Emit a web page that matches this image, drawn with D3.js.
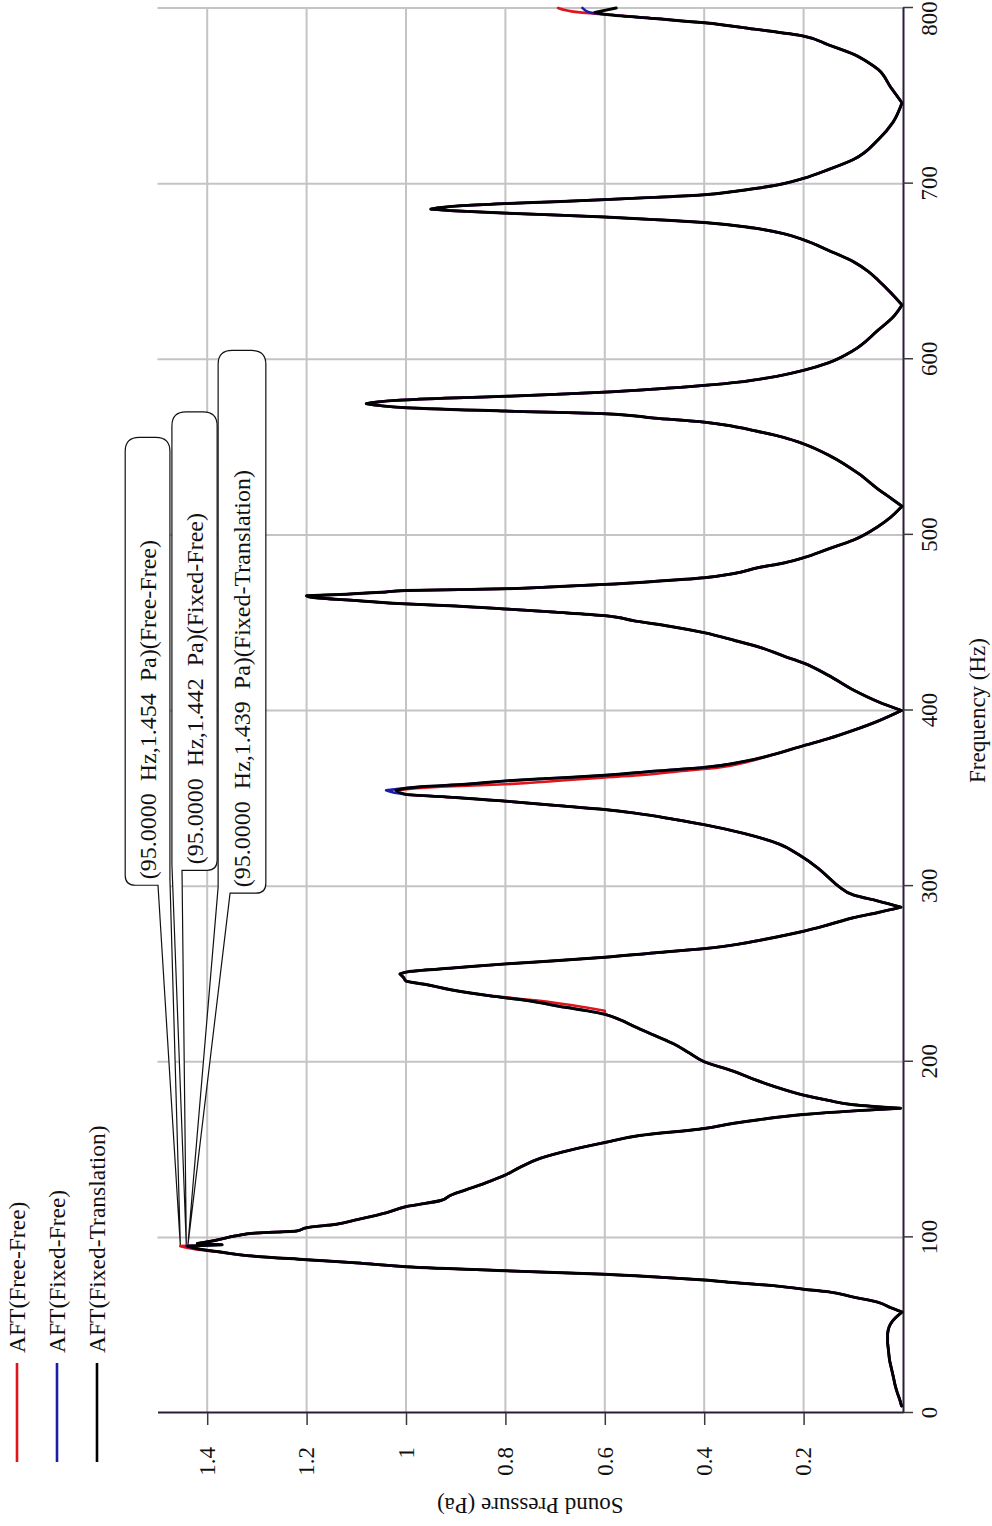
<!DOCTYPE html>
<html><head><meta charset="utf-8">
<script src="https://cdn.jsdelivr.net/npm/d3@7"></script>
<style>
html,body{margin:0;padding:0;background:#fff;}
svg{display:block;}
text{font-family:"Liberation Serif","Times New Roman",serif;}
</style></head><body>
<svg id="chart" width="992" height="1526"></svg>
<script>
// ---------------- DATA ----------------
const freqHz = [
  4, 8, 12, 16, 20, 25, 30, 35, 40, 45,
  49, 52, 54.5, 57.5, 60, 63, 66, 69, 70.5, 72.5,
  74, 75.7, 77.5, 79, 81, 83.3, 85.5, 87.3, 89.6, 91.5,
  93.5, 95, 95.8, 96.5, 98.5, 101, 102.5, 103.6, 105.5, 107.5,
  110, 114, 117.5, 121, 124, 127, 131, 135.5, 140, 145,
  150, 154, 158, 162, 165, 167, 170, 172, 173.5, 175.5,
  178, 181, 186, 190, 194.5, 200, 205, 210, 215, 220,
  224, 227, 229, 231, 235, 237.5, 241, 244, 246, 248,
  250, 251.5, 253.5, 255.7, 257.5, 259.5, 262, 264.4, 267, 269.6,
  274.3, 278, 282, 285, 288, 291.5, 295, 300, 305, 310,
  318, 324, 330, 335, 338, 341.6, 343.6, 346, 348.4, 350.5,
  352.2, 354.5, 356.6, 358, 359.9, 361.5, 363.1, 365.5, 367.6, 371,
  375, 380, 384, 388.7, 394, 400, 405, 411.7, 420, 427,
  431, 435.7, 440, 444.3, 448, 451, 454, 456, 457.8, 459.5,
  460.7, 462.6, 464.5, 465.3, 466.2, 467.3, 468.3, 469.3, 470.5, 471.8,
  473.5, 475.6, 478, 481.4, 484, 487, 492, 497, 504.8, 510,
  516.3, 521, 526, 535, 545, 551.8, 555.5, 559.4, 562, 564.2,
  566.5, 569, 570.5, 572.4, 574.7, 576.6, 578, 578.9, 580, 581.3,
  583, 585.1, 587, 589.5, 593.7, 598, 605, 616.6, 624, 630.9,
  638, 645, 650, 655.6, 662, 668, 671.5, 674.7, 677.9, 679.5,
  681, 683.2, 684.5, 685.5, 687.4, 688.6, 689.7, 690.9, 692.2, 693.7,
  695.5, 697.5, 700, 703, 708, 713.7, 725, 735, 746, 755,
  765, 769, 773.7, 779, 784, 788, 791.6, 794, 796.4, 797.5, 800
];
const fixedTranslation = [
  0.003, 0.007, 0.012, 0.016, 0.019, 0.023, 0.027, 0.029, 0.031, 0.031,
  0.028, 0.022, 0.014, 0.002, 0.025, 0.05, 0.10, 0.15, 0.20, 0.26,
  0.33, 0.40, 0.50, 0.60, 0.80, 1.00, 1.10, 1.20, 1.32, 1.37,
  1.42, 1.439, 1.37, 1.42, 1.38, 1.34, 1.30, 1.22, 1.20, 1.14,
  1.10, 1.04, 1.00, 0.93, 0.91, 0.88, 0.84, 0.80, 0.77, 0.73,
  0.665, 0.60, 0.53, 0.40, 0.34, 0.29, 0.20, 0.10, 0.005, 0.10,
  0.15, 0.20, 0.26, 0.30, 0.34, 0.40, 0.43, 0.46, 0.50, 0.54,
  0.57, 0.60, 0.635, 0.68, 0.76, 0.83, 0.91, 0.96, 1.00, 1.005,
  1.012, 0.99, 0.90, 0.80, 0.70, 0.60, 0.50, 0.40, 0.33, 0.28,
  0.20, 0.15, 0.10, 0.05, 0.004, 0.05, 0.10, 0.13, 0.15, 0.17,
  0.21, 0.25, 0.32, 0.40, 0.46, 0.54, 0.60, 0.70, 0.80, 0.90,
  1.00, 1.02, 0.97, 0.88, 0.80, 0.70, 0.60, 0.50, 0.40, 0.32,
  0.26, 0.20, 0.15, 0.10, 0.05, 0.003, 0.05, 0.10, 0.15, 0.20,
  0.24, 0.285, 0.34, 0.40, 0.47, 0.54, 0.60, 0.70, 0.80, 0.90,
  1.00, 1.10, 1.19, 1.20, 1.12, 1.05, 1.00, 0.80, 0.70, 0.60,
  0.50, 0.40, 0.34, 0.29, 0.24, 0.20, 0.15, 0.10, 0.05, 0.025,
  0.002, 0.025, 0.05, 0.09, 0.147, 0.20, 0.24, 0.30, 0.345, 0.40,
  0.50, 0.60, 0.80, 1.00, 1.08, 1.02, 0.90, 0.80, 0.70, 0.60,
  0.50, 0.40, 0.33, 0.27, 0.20, 0.15, 0.10, 0.05, 0.02, 0.002,
  0.025, 0.05, 0.07, 0.10, 0.15, 0.20, 0.24, 0.30, 0.40, 0.50,
  0.60, 0.80, 0.90, 0.95, 0.89, 0.80, 0.70, 0.60, 0.50, 0.40,
  0.34, 0.29, 0.24, 0.20, 0.15, 0.10, 0.05, 0.02, 0.002, 0.025,
  0.05, 0.07, 0.10, 0.15, 0.20, 0.30, 0.40, 0.50, 0.60, 0.62, 0.577
];
const freeFree = [
  0.003, 0.007, 0.012, 0.016, 0.019, 0.023, 0.027, 0.029, 0.031, 0.031,
  0.028, 0.022, 0.014, 0.002, 0.025, 0.05, 0.10, 0.15, 0.20, 0.26,
  0.33, 0.40, 0.50, 0.60, 0.80, 1.00, 1.10, 1.20, 1.32, 1.37,
  1.43, 1.454, 1.40, 1.42, 1.38, 1.34, 1.30, 1.22, 1.20, 1.14,
  1.10, 1.04, 1.00, 0.93, 0.91, 0.88, 0.84, 0.80, 0.77, 0.73,
  0.665, 0.60, 0.53, 0.40, 0.34, 0.29, 0.20, 0.10, 0.005, 0.10,
  0.15, 0.20, 0.26, 0.30, 0.34, 0.40, 0.43, 0.46, 0.50, 0.54,
  0.57, 0.60, 0.60, 0.64, 0.74, 0.83, 0.91, 0.96, 1.00, 1.005,
  1.012, 0.99, 0.90, 0.80, 0.70, 0.60, 0.50, 0.40, 0.33, 0.28,
  0.20, 0.15, 0.10, 0.05, 0.004, 0.05, 0.10, 0.13, 0.15, 0.17,
  0.21, 0.25, 0.32, 0.40, 0.46, 0.54, 0.60, 0.70, 0.80, 0.90,
  1.00, 1.02, 0.93, 0.80, 0.70, 0.62, 0.53, 0.45, 0.37, 0.31,
  0.26, 0.20, 0.15, 0.10, 0.05, 0.003, 0.05, 0.10, 0.15, 0.20,
  0.24, 0.285, 0.34, 0.40, 0.47, 0.54, 0.60, 0.70, 0.80, 0.90,
  1.00, 1.10, 1.19, 1.20, 1.12, 1.05, 1.00, 0.80, 0.70, 0.60,
  0.50, 0.40, 0.34, 0.29, 0.24, 0.20, 0.15, 0.10, 0.05, 0.025,
  0.002, 0.025, 0.05, 0.09, 0.147, 0.20, 0.24, 0.30, 0.345, 0.40,
  0.50, 0.60, 0.80, 1.00, 1.08, 1.02, 0.90, 0.80, 0.70, 0.60,
  0.50, 0.40, 0.33, 0.27, 0.20, 0.15, 0.10, 0.05, 0.02, 0.002,
  0.025, 0.05, 0.07, 0.10, 0.15, 0.20, 0.24, 0.30, 0.40, 0.50,
  0.60, 0.80, 0.90, 0.95, 0.89, 0.80, 0.70, 0.60, 0.50, 0.40,
  0.34, 0.29, 0.24, 0.20, 0.15, 0.10, 0.05, 0.02, 0.002, 0.025,
  0.05, 0.07, 0.10, 0.15, 0.20, 0.30, 0.40, 0.50, 0.60, 0.65, 0.694
];
const fixedFree = [
  0.003, 0.007, 0.012, 0.016, 0.019, 0.023, 0.027, 0.029, 0.031, 0.031,
  0.028, 0.022, 0.014, 0.002, 0.025, 0.05, 0.10, 0.15, 0.20, 0.26,
  0.33, 0.40, 0.50, 0.60, 0.80, 1.00, 1.10, 1.20, 1.32, 1.37,
  1.42, 1.442, 1.37, 1.42, 1.38, 1.34, 1.30, 1.22, 1.20, 1.14,
  1.10, 1.04, 1.00, 0.93, 0.91, 0.88, 0.84, 0.80, 0.77, 0.73,
  0.665, 0.60, 0.53, 0.40, 0.34, 0.29, 0.20, 0.10, 0.005, 0.10,
  0.15, 0.20, 0.26, 0.30, 0.34, 0.40, 0.43, 0.46, 0.50, 0.54,
  0.57, 0.60, 0.635, 0.68, 0.76, 0.83, 0.91, 0.96, 1.00, 1.005,
  1.012, 0.99, 0.90, 0.80, 0.70, 0.60, 0.50, 0.40, 0.33, 0.28,
  0.20, 0.15, 0.10, 0.05, 0.004, 0.05, 0.10, 0.13, 0.15, 0.17,
  0.21, 0.25, 0.32, 0.40, 0.46, 0.54, 0.60, 0.70, 0.80, 0.90,
  1.00, 1.04, 0.97, 0.88, 0.80, 0.70, 0.60, 0.50, 0.40, 0.32,
  0.26, 0.20, 0.15, 0.10, 0.05, 0.003, 0.05, 0.10, 0.15, 0.20,
  0.24, 0.285, 0.34, 0.40, 0.47, 0.54, 0.60, 0.70, 0.80, 0.90,
  1.00, 1.10, 1.19, 1.20, 1.12, 1.05, 1.00, 0.80, 0.70, 0.60,
  0.50, 0.40, 0.34, 0.29, 0.24, 0.20, 0.15, 0.10, 0.05, 0.025,
  0.002, 0.025, 0.05, 0.09, 0.147, 0.20, 0.24, 0.30, 0.345, 0.40,
  0.50, 0.60, 0.80, 1.00, 1.08, 1.02, 0.90, 0.80, 0.70, 0.60,
  0.50, 0.40, 0.33, 0.27, 0.20, 0.15, 0.10, 0.05, 0.02, 0.002,
  0.025, 0.05, 0.07, 0.10, 0.15, 0.20, 0.24, 0.30, 0.40, 0.50,
  0.60, 0.80, 0.90, 0.95, 0.89, 0.80, 0.70, 0.60, 0.50, 0.40,
  0.34, 0.29, 0.24, 0.20, 0.15, 0.10, 0.05, 0.02, 0.002, 0.025,
  0.05, 0.07, 0.10, 0.15, 0.20, 0.30, 0.40, 0.50, 0.60, 0.63, 0.645
];
const seriesNames = ["AFT(Free-Free)", "AFT(Fixed-Free)", "AFT(Fixed-Translation)"];
const freqTicks = [0, 100, 200, 300, 400, 500, 600, 700, 800];
const pressureTicks = [0.2, 0.4, 0.6, 0.8, 1, 1.2, 1.4];
const peakFreq = [95, 95, 95];
const peakPressure = [1.454, 1.442, 1.439];
const calloutLabels = [
  "(95.0000  Hz,1.454  Pa)(Free-Free)",
  "(95.0000  Hz,1.442  Pa)(Fixed-Free)",
  "(95.0000  Hz,1.439  Pa)(Fixed-Translation)"
];

// ---------------- STYLE / LAYOUT ----------------
const colors = ["#e3131c", "#1c1ca8", "#000000"];
const W = 1526, H = 992;               // unrotated drawing space
const margin = {left: 113, right: 8, top: 157.5, bottom: 89};
const FONT = '"Liberation Serif","Times New Roman",serif';

const svg = d3.select("#chart");
svg.append("rect").attr("width", 992).attr("height", 1526).attr("fill", "#fff");
const g = svg.append("g").attr("transform", `translate(0,${W}) rotate(-90)`);

const x = d3.scaleLinear().domain([0, 800]).range([margin.left, W - margin.right]);
const y = d3.scaleLinear().domain([0, 1.5]).range([H - margin.bottom, margin.top]);

// gridlines
g.append("g").selectAll("line").data(pressureTicks).join("line")
  .attr("x1", x(0)).attr("x2", x(800))
  .attr("y1", d => y(d)).attr("y2", d => y(d))
  .attr("stroke", "#c4c4c4").attr("stroke-width", 2);
g.append("g").selectAll("line").data(freqTicks.filter(d => d > 0)).join("line")
  .attr("x1", d => x(d)).attr("x2", d => x(d))
  .attr("y1", y(0)).attr("y2", y(1.5))
  .attr("stroke", "#c4c4c4").attr("stroke-width", 2);

// axes
const gx = g.append("g").attr("transform", `translate(0,${y(0)})`)
  .call(d3.axisBottom(x).tickValues(freqTicks).tickSize(10).tickSizeOuter(0).tickPadding(8).tickFormat(d => String(d)));
const gy = g.append("g").attr("transform", `translate(${x(0)},0)`)
  .call(d3.axisLeft(y).tickValues(pressureTicks).tickSize(12).tickSizeOuter(0).tickPadding(22).tickFormat(d => String(d)));
[gx, gy].forEach(a => {
  a.attr("font-family", FONT).attr("font-size", 23);
  a.select(".domain").attr("stroke", "#2b1d3a").attr("stroke-width", 2);
  a.selectAll(".tick line").attr("stroke", "#3a3a3a").attr("stroke-width", 1.5);
  a.selectAll(".tick text").attr("fill", "#111");
});
// keep the last frequency label inside the picture
gx.selectAll(".tick text").filter(d => d === 800).attr("dx", -11);

// axis titles
g.append("text").attr("x", (x(0) + x(800)) / 2).attr("y", 985)
  .attr("text-anchor", "middle").attr("font-size", 23).attr("fill", "#111")
  .text("Frequency (Hz)");
g.append("text").attr("transform", `translate(28,${(y(0) + y(1.5)) / 2}) rotate(-90)`)
  .attr("text-anchor", "middle").attr("font-size", 23).attr("fill", "#111")
  .text("Sound Pressure (Pa)");

// callouts (box extents given in data units, converted through the scales)
const calloutBoxes = [
  {f0: 300.5, f1: 555.5, pHi: 1.565, pLo: 1.475, pW: 1.499, side: "lo"},
  {f0: 309,   f1: 570,   pHi: 1.471, pLo: 1.380, pW: 1.4507, side: "hi"},
  {f0: 296,   f1: 605,   pHi: 1.378, pLo: 1.282, pW: 1.354, side: "hi"}
];
function calloutPath(b, i) {
  const X0 = x(b.f0), X1 = x(b.f1), Y0 = y(b.pHi), Y1 = y(b.pLo), Yw = y(b.pW);
  const ax = x(peakFreq[i]), ay = y(peakPressure[i]);
  const rT = 14, rB = 10;
  const p = d3.path();
  if (b.side === "lo") {
    p.moveTo(X0, Yw); p.lineTo(ax, ay); p.lineTo(X0 + 6, Y1);
    p.lineTo(X1 - rT, Y1); p.quadraticCurveTo(X1, Y1, X1, Y1 - rT);
    p.lineTo(X1, Y0 + rT); p.quadraticCurveTo(X1, Y0, X1 - rT, Y0);
    p.lineTo(X0 + rB, Y0); p.quadraticCurveTo(X0, Y0, X0, Y0 + rB);
    p.closePath();
  } else {
    p.moveTo(X0 + 6, Y0); p.lineTo(ax, ay); p.lineTo(X0, Yw);
    p.lineTo(X0, Y1 - rB); p.quadraticCurveTo(X0, Y1, X0 + rB, Y1);
    p.lineTo(X1 - rT, Y1); p.quadraticCurveTo(X1, Y1, X1, Y1 - rT);
    p.lineTo(X1, Y0 + rT); p.quadraticCurveTo(X1, Y0, X1 - rT, Y0);
    p.closePath();
  }
  return p.toString();
}
const gc = g.append("g");
gc.selectAll("path.fill").data(calloutBoxes).join("path").attr("class", "fill")
  .attr("d", calloutPath).attr("fill", "#fff").attr("stroke", "none");
gc.selectAll("path.edge").data(calloutBoxes).join("path").attr("class", "edge")
  .attr("d", calloutPath).attr("fill", "none").attr("stroke", "#111").attr("stroke-width", 1.2);
gc.selectAll("text").data(calloutBoxes).join("text")
  .attr("x", b => x(b.f0) + 6).attr("y", b => (y(b.pHi) + y(b.pLo)) / 2)
  .attr("dominant-baseline", "central").attr("font-size", 24).attr("fill", "#111")
  .attr("xml:space", "preserve").style("white-space", "pre")
  .text((b, i) => calloutLabels[i]);

// curves: smooth each monotonic run separately so peaks and zeros stay sharp
const series = [freeFree, fixedFree, fixedTranslation];
const smooth = d3.line().x(d => x(d[0])).y(d => y(d[1])).curve(d3.curveMonotoneX);
function curvePath(vals) {
  const pts = freqHz.map((f, k) => [f, vals[k]]);
  const cuts = [0];
  for (let k = 1; k < pts.length - 1; k++) {
    if ((vals[k] - vals[k - 1]) * (vals[k + 1] - vals[k]) <= 0) cuts.push(k);
  }
  cuts.push(pts.length - 1);
  let d = "";
  for (let c = 0; c < cuts.length - 1; c++) {
    const seg = pts.slice(cuts[c], cuts[c + 1] + 1);
    const s = smooth(seg);
    d += (c === 0 ? s : "L" + s.slice(1));
  }
  return d;
}
series.forEach((vals, i) => {
  g.append("path").attr("d", curvePath(vals)).attr("fill", "none")
    .attr("stroke", colors[i]).attr("stroke-width", i === 2 ? 2.9 : 2.6)
    .attr("stroke-linejoin", "round").attr("stroke-linecap", "round");
});

// legend
const lg = g.append("g");
const legendRows = [17, 57, 97];
seriesNames.forEach((name, i) => {
  lg.append("line").attr("x1", 64).attr("x2", 163).attr("y1", legendRows[i]).attr("y2", legendRows[i])
    .attr("stroke", colors[i]).attr("stroke-width", 2.6);
  lg.append("text").attr("x", 173).attr("y", legendRows[i]).attr("dominant-baseline", "central")
    .attr("font-size", 23.5).attr("fill", "#111").text(name);
});
</script>
</body></html>
